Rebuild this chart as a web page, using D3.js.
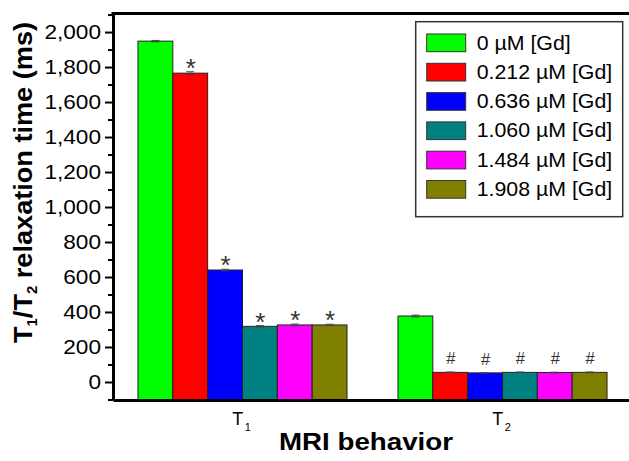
<!DOCTYPE html>
<html><head><meta charset="utf-8">
<script src="https://cdn.jsdelivr.net/npm/d3@7"></script>
<style>body{margin:0;background:#fff} svg{display:block;font-family:"Liberation Sans",Arial,sans-serif}</style>
</head><body><svg id="c" width="629" height="461"></svg>
<script>
// ---- data ----
const groups = ["T1", "T2"];
const groupSubs = ["1", "2"];
const series = ["0 µM [Gd]", "0.212 µM [Gd]", "0.636 µM [Gd]", "1.060 µM [Gd]", "1.484 µM [Gd]", "1.908 µM [Gd]"];
const t1Values = [1948, 1765, 640, 318, 326, 326];
const t2Values = [377, 55, 52, 55, 54, 55];
const t1Errors = [4, 8, 4, 4, 5, 4];
const t2Errors = [5, 2, 2, 2, 2, 2];
const t1Marks = ["", "*", "*", "*", "*", "*"];
const t2Marks = ["", "#", "#", "#", "#", "#"];
const yTicks = [0, 200, 400, 600, 800, 1000, 1200, 1400, 1600, 1800, 2000];
const yMinorTicks = [-100, 100, 300, 500, 700, 900, 1100, 1300, 1500, 1700, 1900, 2100];
const colors = ["#00ff00", "#ff0000", "#0000ff", "#008080", "#ff00ff", "#808000"];

const valuesByGroup = [t1Values, t2Values];
const errorsByGroup = [t1Errors, t2Errors];
const marksByGroup = [t1Marks, t2Marks];

// ---- layout ----
const svg = d3.select("#c");
const pLeft = 113, pRight = 632, pTop = 13.5, pBottom = 400;
const y = d3.scaleLinear().domain([-103, 2106]).range([pBottom, pTop]);
const x = d3.scaleBand().domain(groups).range([pLeft, pRight]).paddingInner(0.196).paddingOuter(0.096);
const xs = d3.scaleBand().domain(series).range([0, x.bandwidth()]);
const color = d3.scaleOrdinal().domain(series).range(colors);

function stretch(sel, k) {
  sel.each(function () {
    const L = this.getComputedTextLength();
    this.setAttribute("textLength", L * k);
    this.setAttribute("lengthAdjust", "spacingAndGlyphs");
  });
}

const rows = [];
groups.forEach((g, gi) => series.forEach((s, si) => rows.push({
  g, s, gi, si, v: valuesByGroup[gi][si], e: errorsByGroup[gi][si], m: marksByGroup[gi][si]
})));

// bars
svg.append("g").selectAll("rect").data(rows).join("rect")
  .attr("x", d => x(d.g) + xs(d.s))
  .attr("width", xs.bandwidth())
  .attr("y", d => y(d.v))
  .attr("height", d => y.range()[0] - y(d.v))
  .attr("fill", d => color(d.s))
  .attr("stroke", "#222").attr("stroke-width", 1);

// error bars
const eb = svg.append("g").attr("stroke", "#444").attr("stroke-width", 1);
rows.forEach(d => {
  const cx = x(d.g) + xs(d.s) + xs.bandwidth() / 2;
  eb.append("line").attr("x1", cx).attr("x2", cx).attr("y1", y(d.v - d.e)).attr("y2", y(d.v + d.e));
  eb.append("line").attr("x1", cx - 4).attr("x2", cx + 4).attr("y1", y(d.v + d.e)).attr("y2", y(d.v + d.e));
  eb.append("line").attr("x1", cx - 4).attr("x2", cx + 4).attr("y1", y(d.v - d.e)).attr("y2", y(d.v - d.e));
});

// significance marks
svg.append("g").selectAll("text").data(rows.filter(d => d.m)).join("text")
  .attr("x", d => x(d.g) + xs(d.s) + xs.bandwidth() / 2 + 0.5)
  .attr("y", d => d.m === "*" ? y(d.v + d.e) - 6 + 0.42 * 26 : y(d.v + d.e) - 8)
  .attr("text-anchor", "middle")
  .attr("font-size", d => d.m === "*" ? 26 : 16.5)
  .attr("font-family", "Liberation Sans, Arial, sans-serif")
  .attr("fill", "#333")
  .text(d => d.m);

// y axis
const gy = svg.append("g").attr("transform", `translate(${pLeft},0)`)
  .call(d3.axisLeft(y).tickValues(yTicks).tickSize(8).tickSizeOuter(0).tickPadding(4).tickFormat(d3.format(",")));
gy.select(".domain").attr("stroke", "#000").attr("stroke-width", 3);
gy.selectAll(".tick line").attr("stroke", "#000").attr("stroke-width", 2);
gy.selectAll(".tick text").attr("font-size", 20).attr("fill", "#000")
  .attr("font-family", "Liberation Sans, Arial, sans-serif").call(stretch, 1.13);
const gyMinor = svg.append("g").attr("transform", `translate(${pLeft},0)`)
  .call(d3.axisLeft(y).tickValues(yMinorTicks).tickSize(5).tickSizeOuter(0).tickFormat(""));
gyMinor.select(".domain").remove();
gyMinor.selectAll(".tick line").attr("stroke", "#000").attr("stroke-width", 2);

// x axis
const gx = svg.append("g").attr("transform", `translate(0,${pBottom})`)
  .call(d3.axisBottom(x).tickSize(0).tickSizeOuter(0));
gx.select(".domain").attr("stroke", "#000").attr("stroke-width", 3);
gx.selectAll(".tick text").each(function (d, i) {
  const t = d3.select(this).text(null).attr("y", 25).attr("dy", null).attr("x", -1)
    .attr("fill", "#000").attr("font-family", "Liberation Sans, Arial, sans-serif");
  t.append("tspan").attr("font-size", 18).text(d.charAt(0));
  t.append("tspan").attr("font-size", 11).attr("dy", 6).attr("dx", 1.5).text(groupSubs[i]);
});

// top frame line
svg.append("line").attr("x1", pLeft - 1.5).attr("x2", pRight).attr("y1", pTop).attr("y2", pTop)
  .attr("stroke", "#000").attr("stroke-width", 3);

// axis titles
svg.append("text").attr("x", 366).attr("y", 450).attr("text-anchor", "middle")
  .attr("font-size", 24).attr("font-weight", "bold").text("MRI behavior")
  .attr("textLength", 174).attr("lengthAdjust", "spacingAndGlyphs");

const yt = svg.append("text").attr("transform", "translate(32,182.5) rotate(-90)")
  .attr("text-anchor", "middle").attr("font-size", 25.5).attr("font-weight", "bold");
yt.append("tspan").text("T");
yt.append("tspan").attr("font-size", 14).attr("dy", 5).text("1");
yt.append("tspan").attr("dy", -5).text("/T");
yt.append("tspan").attr("font-size", 14).attr("dy", 5).text("2");
yt.append("tspan").attr("dy", -5).text(" relaxation time (ms)");
yt.attr("textLength", 321).attr("lengthAdjust", "spacingAndGlyphs");

// legend
const lg = svg.append("g");
lg.append("rect").attr("x", 415.7).attr("y", 21.7).attr("width", 207).attr("height", 195)
  .attr("fill", "#fff").attr("stroke", "#333").attr("stroke-width", 1.5);
series.forEach((s, i) => {
  const ty = 34 + i * 29.3;
  lg.append("rect").attr("x", 426.7).attr("y", ty).attr("width", 39).attr("height", 17.7)
    .attr("fill", color(s)).attr("stroke", "#333").attr("stroke-width", 1);
  lg.append("text").attr("x", 476.7).attr("y", ty + 15.5).attr("font-size", 20.5).attr("fill", "#000")
    .text(s).call(stretch, 1.04);
});
</script></body></html>
